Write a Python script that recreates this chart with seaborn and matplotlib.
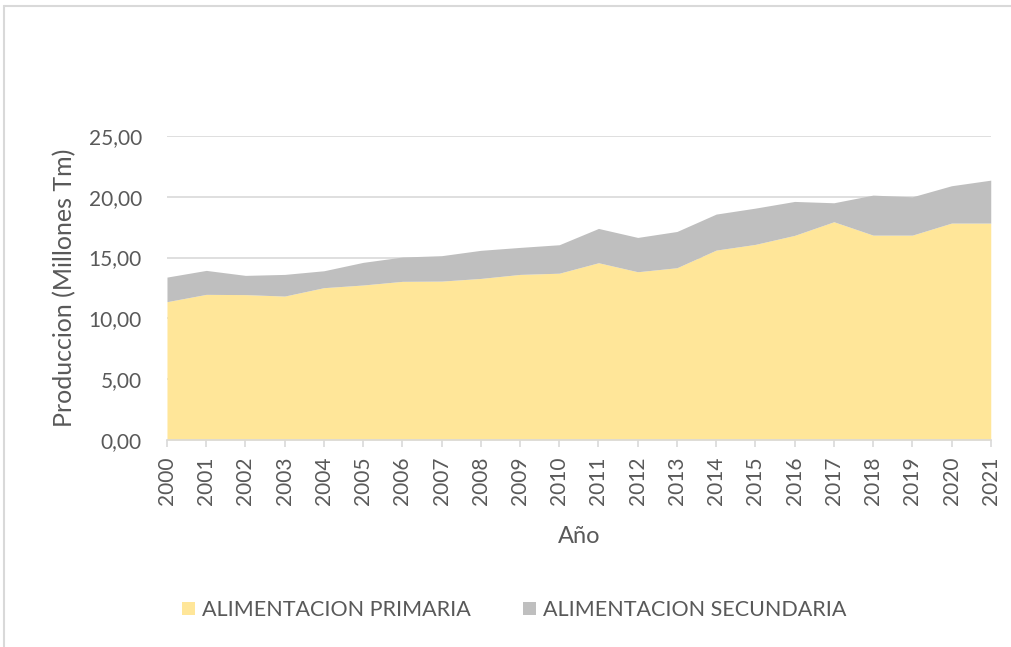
import numpy as np
import pandas as pd
import seaborn as sns
import matplotlib.pyplot as plt
from matplotlib.ticker import FuncFormatter, MultipleLocator
from matplotlib.lines import Line2D
from matplotlib.patches import Patch

years = list(range(2000, 2022))
primaria = [11.37, 11.97, 11.95, 11.83, 12.52, 12.74, 13.04, 13.06, 13.28, 13.61, 13.71,
            14.57, 13.83, 14.16, 15.61, 16.08, 16.82, 17.94, 16.84, 16.84, 17.83, 17.83]
total = [13.39, 13.94, 13.53, 13.61, 13.91, 14.60, 15.04, 15.15, 15.59, 15.83, 16.05,
         17.39, 16.65, 17.14, 18.57, 19.06, 19.61, 19.50, 20.13, 19.99, 20.90, 21.36]
secundaria = [round(t - p, 2) for t, p in zip(total, primaria)]

df = pd.DataFrame({"Año": years,
                   "ALIMENTACION PRIMARIA": primaria,
                   "ALIMENTACION SECUNDARIA": secundaria})

sns.set_theme(style="white")
plt.rcParams["font.family"] = ["Lato", "DejaVu Sans"]

colors = ["#ffe699", "#bfbfbf"]
text_color = "#595959"

fig = plt.figure(figsize=(10.12, 6.47), dpi=100)
ax = fig.add_axes([0.165, 0.32, 0.814, 0.47])

ax.stackplot(df["Año"], df["ALIMENTACION PRIMARIA"], df["ALIMENTACION SECUNDARIA"],
             colors=colors, linewidth=0, zorder=2)

ax.set_xlim(2000, 2021)
ax.set_ylim(0, 25)
ax.yaxis.set_major_locator(MultipleLocator(5))
ax.yaxis.set_major_formatter(FuncFormatter(lambda v, _: f"{v:.2f}".replace(".", ",")))
ax.set_xticks(years)
ax.set_xticklabels([str(y) for y in years], rotation=90)
ax.set_axisbelow(True)
ax.grid(axis="y", color="#d9d9d9", linewidth=1.2)

for s in ["top", "right", "left"]:
    ax.spines[s].set_visible(False)
ax.spines["bottom"].set_color("#d9d9d9")
ax.spines["bottom"].set_linewidth(1.2)
ax.spines["bottom"].set_zorder(3)
ax.tick_params(axis="x", which="major", bottom=True, length=5, width=1.2,
               color="#d9d9d9", labelsize=15, labelcolor=text_color, pad=7)
ax.tick_params(axis="y", left=False, labelsize=15, labelcolor=text_color, pad=12)

ax.set_ylabel("Produccion (Millones Tm)", fontsize=18, color=text_color, labelpad=9)
ax.set_xlabel("Año", fontsize=17, color=text_color, labelpad=15)

handles = [Patch(facecolor=colors[0], edgecolor="none"),
           Patch(facecolor=colors[1], edgecolor="none")]
fig.legend(handles, ["ALIMENTACION PRIMARIA", "ALIMENTACION SECUNDARIA"],
           loc="center", bbox_to_anchor=(0.508, 0.057), ncol=2, frameon=False,
           fontsize=15.5, handlelength=0.6, handleheight=0.6, handletextpad=0.33,
           columnspacing=2.4, labelcolor=text_color)

# outer chart frame (top and left edges visible)
fig.add_artist(Line2D([0.004, 1.0], [0.991, 0.991], color="#d9d9d9", linewidth=1.5,
                      transform=fig.transFigure))
fig.add_artist(Line2D([0.004, 0.004], [0.0, 0.991], color="#d9d9d9", linewidth=1.5,
                      transform=fig.transFigure))

fig.savefig("out.png", dpi=100, facecolor="white")
